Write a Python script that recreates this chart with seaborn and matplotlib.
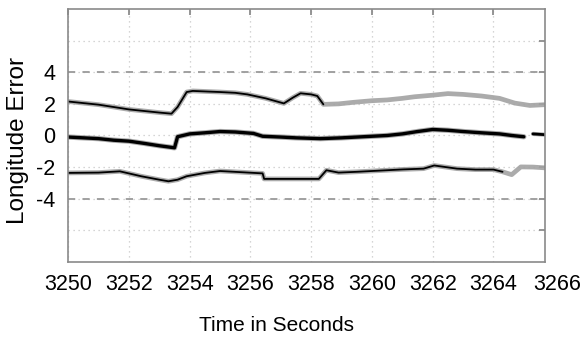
import matplotlib
matplotlib.use("Agg")
import matplotlib.pyplot as plt
import matplotlib.transforms as mtransforms
import numpy as np
import seaborn as sns

# upper error bound trace
upper_t = [3250.0, 3250.5, 3251.0, 3251.5, 3252.0, 3252.5, 3253.0, 3253.4, 3253.6,
           3253.9, 3254.1, 3254.6, 3255.0, 3255.5, 3255.9, 3256.5, 3257.1, 3257.4,
           3257.65, 3258.0, 3258.2, 3258.4, 3258.9, 3259.4, 3260.0, 3260.5, 3261.0,
           3261.4, 3262.0, 3262.5, 3263.0, 3263.6, 3264.2, 3264.7, 3265.2, 3265.7]
upper_v = [2.15, 2.05, 1.95, 1.8, 1.65, 1.55, 1.45, 1.38, 1.8,
           2.75, 2.82, 2.78, 2.75, 2.7, 2.6, 2.35, 2.03, 2.4,
           2.67, 2.6, 2.5, 1.97, 2.0, 2.1, 2.2, 2.25, 2.35,
           2.45, 2.55, 2.65, 2.6, 2.5, 2.35, 2.05, 1.9, 1.95]
upper_black_end = 3258.4

# longitude error estimate
middle_t = [3250.0, 3250.5, 3251.0, 3251.5, 3252.0, 3252.5, 3253.0, 3253.5, 3253.6,
            3254.0, 3254.5, 3255.0, 3255.5, 3256.1, 3256.4, 3257.0, 3257.5, 3258.3,
            3259.0, 3259.5, 3260.0, 3260.5, 3261.0, 3261.5, 3262.0, 3262.5, 3263.0,
            3263.6, 3264.2, 3264.6, 3265.0]
middle_v = [-0.1, -0.15, -0.2, -0.3, -0.36, -0.5, -0.65, -0.78, -0.08,
            0.1, 0.17, 0.25, 0.22, 0.13, -0.05, -0.1, -0.15, -0.2,
            -0.15, -0.1, -0.05, 0.0, 0.1, 0.25, 0.38, 0.33, 0.25,
            0.17, 0.1, 0.0, -0.08]
middle_tail_t = [3265.3, 3265.7]
middle_tail_v = [0.1, 0.05]

# lower error bound trace
lower_t = [3250.0, 3251.0, 3251.7, 3252.4, 3253.0, 3253.3, 3253.6, 3253.9, 3254.5,
           3255.0, 3256.4, 3256.45, 3258.25, 3258.5, 3258.9, 3259.5, 3260.5, 3261.0,
           3261.7, 3262.05, 3262.8, 3263.4, 3264.0, 3264.3, 3264.6, 3264.9, 3265.3, 3265.7]
lower_v = [-2.37, -2.35, -2.27, -2.58, -2.8, -2.9, -2.8, -2.58, -2.37,
           -2.25, -2.4, -2.75, -2.75, -2.2, -2.35, -2.3, -2.2, -2.15,
           -2.1, -1.9, -2.1, -2.16, -2.16, -2.3, -2.48, -1.99, -2.0, -2.05]
lower_black_end = 3264.3

bound_levels = [4, -4]
x_ticks = [3250, 3252, 3254, 3256, 3258, 3260, 3262, 3264]
y_ticks = [-6, -4, -2, 0, 2, 4, 6]
y_labels = ["", "-4", "-2", "0", "2", "4", ""]

sns.set_theme(style="white")
plt.rcParams["font.family"] = ["Liberation Sans", "DejaVu Sans"]
plt.rcParams["text.color"] = "black"
plt.rcParams["axes.labelcolor"] = "black"
plt.rcParams["xtick.labelcolor"] = "black"
plt.rcParams["ytick.labelcolor"] = "black"

fig = plt.figure(figsize=(5.83, 3.37), dpi=100)
ax = fig.add_axes([0.117, 0.223, 0.818, 0.75])

halo = "#a2a2a2"


def draw(t, v, black_end=None, lw_black=1.3, lw_halo=3.4):
    t = np.asarray(t)
    v = np.asarray(v)
    sns.lineplot(x=t, y=v, color=halo, linewidth=lw_halo, ax=ax, sort=False,
                 estimator=None, alpha=0.9)
    if black_end is None:
        mask = np.ones_like(t, dtype=bool)
    else:
        mask = t <= black_end
    sns.lineplot(x=t[mask], y=v[mask], color="black", linewidth=lw_black, ax=ax,
                 sort=False, estimator=None)


for lvl in bound_levels:
    ax.axhline(lvl, color="#9a9a9a", linestyle=(0, (4, 4)), linewidth=1.3)

draw(upper_t, upper_v, upper_black_end)
draw(middle_t, middle_v, lw_black=2.4, lw_halo=3.8)
draw(middle_tail_t, middle_tail_v, lw_black=2.0, lw_halo=3)
draw(lower_t, lower_v, lower_black_end)

ax.set_xlim(3250, 3265.7)
ax.set_ylim(-8, 8)
ax.set_xticks(x_ticks)
ax.set_xticklabels([str(x) for x in x_ticks])
ax.set_yticks(y_ticks)
ax.set_yticklabels(y_labels)
ax.grid(True, color="#c8c8c8", linestyle=(0, (1, 3)), linewidth=0.9)
ax.tick_params(direction="in", length=4, color="#888888", labelsize=15.5,
               top=True, right=True, pad=9)
for s in ax.spines.values():
    s.set_color("#8a8a8a")
    s.set_linewidth(1.2)

# last tick label sits just past the right edge of the plot
trans = mtransforms.blended_transform_factory(ax.transData, ax.transAxes)
ax.text(3266.1, -0.05, "3266", transform=trans, ha="center", va="top",
        fontsize=15.5, clip_on=False)

ax.set_xlabel("Time in Seconds", fontsize=15)
ax.set_ylabel("Longitude Error", fontsize=17.5)
ax.xaxis.set_label_coords(0.436, -0.215)
ax.yaxis.set_label_coords(-0.083, 0.48)

fig.canvas.draw()
lab = ax.xaxis.get_ticklabels()[0]
bb = lab.get_window_extent().transformed(ax.transAxes.inverted())
ax.texts[-1].set_position((3266.1, bb.y1))

fig.savefig("out.png", dpi=100)
